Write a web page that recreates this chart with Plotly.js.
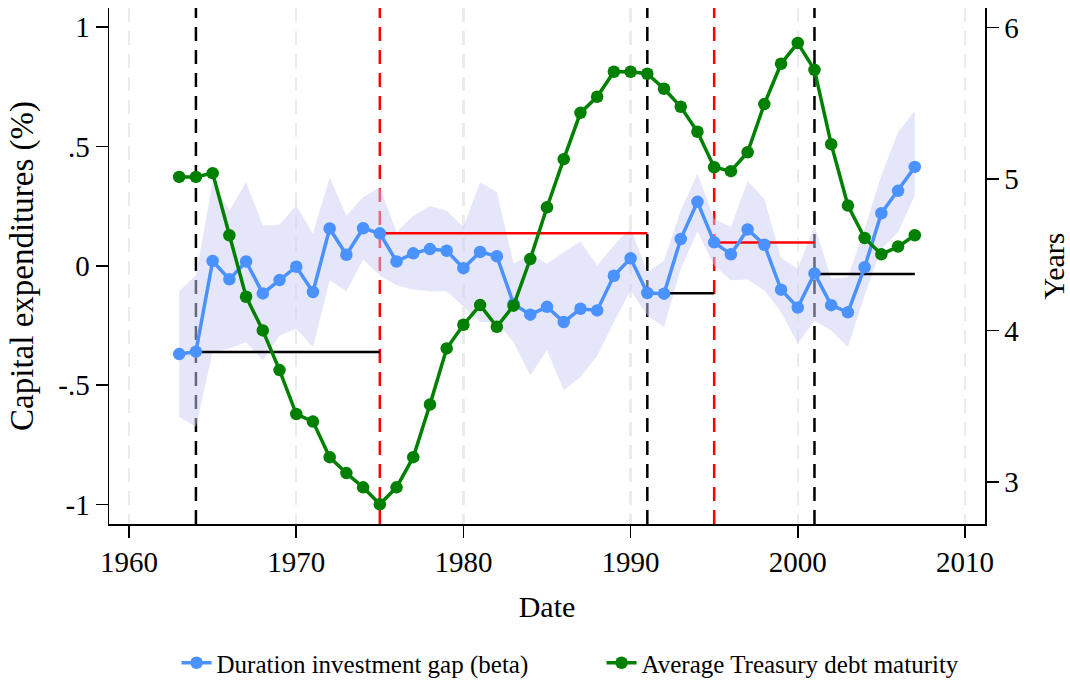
<!DOCTYPE html>
<html>
<head>
<meta charset="utf-8">
<script src="https://cdn.plot.ly/plotly-3.0.1.min.js"></script>
<style>html,body{margin:0;padding:0;background:#fff;}#chart{width:1070px;height:683px;}</style>
</head>
<body>
<div id="chart"></div>
<script>
// ---- data ----
const years = [1963,1964,1965,1966,1967,1968,1969,1970,1971,1972,1973,1974,1975,1976,1977,1978,1979,1980,1981,1982,1983,1984,1985,1986,1987,1988,1989,1990,1991,1992,1993,1994,1995,1996,1997,1998,1999,2000,2001,2002,2003,2004,2005,2006,2007];
const betaGap = [-0.37,-0.36,0.02,-0.057,0.018,-0.116,-0.06,-0.004,-0.11,0.156,0.046,0.157,0.136,0.018,0.052,0.07,0.063,-0.01,0.058,0.04,-0.16,-0.205,-0.172,-0.236,-0.18,-0.187,-0.042,0.031,-0.114,-0.117,0.112,0.268,0.098,0.048,0.152,0.088,-0.1,-0.175,-0.032,-0.165,-0.195,-0.006,0.22,0.314,0.414];
const betaUpper = [-0.107,-0.04,0.35,0.231,0.35,0.169,0.172,0.252,0.134,0.371,0.21,0.287,0.329,0.141,0.21,0.25,0.231,0.162,0.35,0.308,0.008,0.05,0.008,0.057,0.102,0.001,0.085,0.158,-0.027,0.022,0.231,0.385,0.197,0.162,0.355,0.28,0.032,-0.013,0.169,-0.054,-0.047,0.155,0.378,0.559,0.65];
const betaLower = [-0.633,-0.675,-0.361,-0.347,-0.32,-0.396,-0.292,-0.264,-0.34,-0.061,-0.107,0.026,-0.041,-0.082,-0.099,-0.107,-0.107,-0.173,-0.236,-0.236,-0.32,-0.459,-0.354,-0.522,-0.466,-0.378,-0.236,-0.103,-0.208,-0.257,-0.013,0.144,0.001,-0.061,-0.058,-0.103,-0.194,-0.326,-0.229,-0.271,-0.34,-0.124,0.071,0.141,0.294];
const maturity = [5.015,5.015,5.04,4.63,4.224,4.002,3.74,3.45,3.40,3.165,3.06,2.966,2.854,2.966,3.165,3.513,3.883,4.039,4.169,4.026,4.165,4.473,4.815,5.132,5.438,5.544,5.709,5.709,5.696,5.597,5.478,5.313,5.079,5.053,5.178,5.496,5.762,5.899,5.722,5.231,4.826,4.612,4.504,4.555,4.63];
const segStart = [1964,1975,1991,1995,2001];
const segEnd   = [1975,1991,1995,2001,2007];
const segLevel = [-0.361,0.136,-0.115,0.097,-0.034];
const breaksBlack = [1964,1991,2001];
const breaksRed = [1975,1995];
const xTicks = [1960,1970,1980,1990,2000,2010];
const yTickVals = [-1,-0.5,0,0.5,1];
const yTickText = ['-1','-.5','0','.5','1'];
const y2TickVals = [3,4,5,6];
const seriesNames = ['Duration investment gap (beta)','Average Treasury debt maturity'];

// ---- styles ----
const BLUE = '#4a92ff';
const GREEN = '#008000';
const FONT = 'Liberation Serif, Times New Roman, serif';
const redSegs = new Set([1975,1995]);

const traces = [];
traces.push({x: years, y: betaLower, mode:'lines', line:{width:0, color:'rgba(0,0,0,0)'}, showlegend:false, hoverinfo:'skip'});
traces.push({x: years, y: betaUpper, mode:'lines', line:{width:0, color:'rgba(0,0,0,0)'}, fill:'tonexty', fillcolor:'rgba(205,205,245,0.5)', showlegend:false, hoverinfo:'skip'});
segStart.forEach((s,i)=>{
  traces.push({x:[s, segEnd[i]], y:[segLevel[i], segLevel[i]], mode:'lines',
    line:{color: redSegs.has(s) ? '#ff0000' : '#000000', width:2.5}, showlegend:false, hoverinfo:'skip'});
});
traces.push({x: years, y: betaGap, name: seriesNames[0], mode:'lines+markers',
  line:{color:BLUE, width:3.5}, marker:{color:BLUE, size:12.5}});
traces.push({x: years, y: maturity, name: seriesNames[1], mode:'lines+markers', yaxis:'y2',
  line:{color:GREEN, width:3.5}, marker:{color:GREEN, size:12.5}});

const shapes = [];
breaksBlack.forEach(v=>shapes.push({type:'line', xref:'x', yref:'paper', x0:v, x1:v, y0:0, y1:1, layer:'below', line:{color:'#000', width:2.5, dash:'14px,9px'}}));
breaksRed.forEach(v=>shapes.push({type:'line', xref:'x', yref:'paper', x0:v, x1:v, y0:0, y1:1, layer:'below', line:{color:'#ff0000', width:2.5, dash:'14px,9px'}}));

const layout = {
  width:1070, height:683,
  margin:{l:109, r:85, t:8, b:159},
  paper_bgcolor:'#fff', plot_bgcolor:'#fff',
  font:{family:FONT, color:'#000', size:29},
  showlegend:true,
  legend:{orientation:'h', xref:'container', yref:'container', x:0.165, xanchor:'left', y:(683-663)/683, yanchor:'middle',
    font:{size:25, family:FONT}, traceorder:'normal', entrywidth:380, entrywidthmode:'pixels'},
  xaxis:{range:[1958.8, 2011.2], tickvals:xTicks, ticks:'outside', ticklen:12, tickwidth:1.5, tickcolor:'#000',
    showline:true, linecolor:'#000', linewidth:1.5, showgrid:true, gridcolor:'#ebebeb', gridwidth:2.5, griddash:'14px,9px',
    zeroline:false, tickfont:{size:29}, title:{text:'Date', font:{size:30}, standoff:18}},
  yaxis:{range:[-1.082, 1.08], tickvals:yTickVals, ticktext:yTickText, ticks:'outside', ticklen:12, tickwidth:1.5, tickcolor:'#000',
    showline:true, linecolor:'#000', linewidth:1.5, showgrid:false, zeroline:false, tickfont:{size:29},
    title:{text:'Capital expenditures (%)', font:{size:33}, standoff:14}},
  yaxis2:{range:[2.724, 6.13], tickvals:y2TickVals, overlaying:'y', side:'right', ticks:'outside', ticklen:12, tickwidth:1.5, tickcolor:'#000',
    showline:true, linecolor:'#000', linewidth:1.5, showgrid:false, zeroline:false, tickfont:{size:29},
    title:{text:'Years', font:{size:30}, standoff:24}},
  shapes: shapes
};

Plotly.newPlot('chart', traces, layout, {staticPlot:true, displayModeBar:false});
</script>
</body>
</html>
